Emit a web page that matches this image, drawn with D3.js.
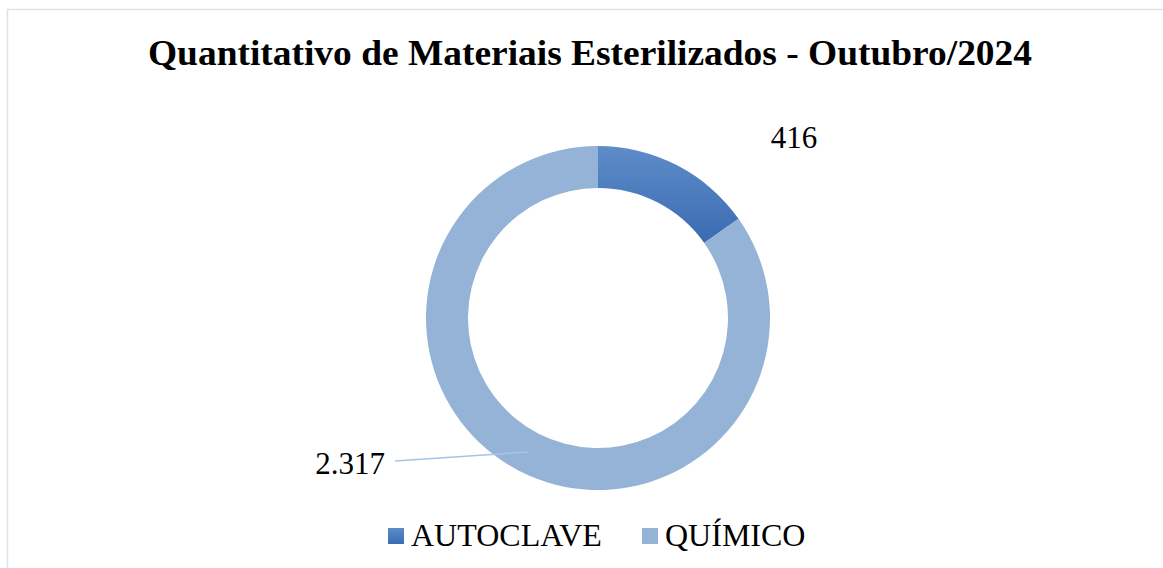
<!DOCTYPE html>
<html>
<head>
<meta charset="utf-8">
<script src="https://cdn.jsdelivr.net/npm/d3@7"></script>
<style>
  body { margin: 0; background: #fff; }
  text { font-family: "Liberation Serif", "Times New Roman", serif; fill: #000; }
</style>
</head>
<body>
<script>
// Chart data
var categories = ["AUTOCLAVE", "QUÍMICO"];
var values = [416, 2317];
var valueLabels = ["416", "2.317"];
var colors = ["#4a7cc0", "#95b3d7"];

var svgWidth = 1163;
var svgHeight = 568;

var svg = d3.select("body")
  .append("svg")
  .attr("width", svgWidth)
  .attr("height", svgHeight);

// gradient for autoclave slice
var defs = svg.append("defs");
var grad = defs.append("linearGradient")
  .attr("id", "autoGrad")
  .attr("x1", 0).attr("y1", 0).attr("x2", 0).attr("y2", 1);
grad.append("stop").attr("offset", "0%").attr("stop-color", "#5f8cc9");
grad.append("stop").attr("offset", "100%").attr("stop-color", "#3a6cb2");

var fills = ["url(#autoGrad)", colors[1]];

// chart border
svg.append("rect")
  .attr("x", 7.5)
  .attr("y", 9.5)
  .attr("width", svgWidth)
  .attr("height", svgHeight)
  .attr("fill", "none")
  .attr("stroke", "#d9e3f0")
  .attr("stroke-width", 1.5);

// title
svg.append("text")
  .attr("x", 590)
  .attr("y", 65)
  .attr("text-anchor", "middle")
  .attr("font-size", "36px")
  .attr("font-weight", "bold")
  .attr("textLength", 884)
  .attr("lengthAdjust", "spacingAndGlyphs")
  .text("Quantitativo de Materiais Esterilizados - Outubro/2024");

// donut
var cx = 598, cy = 318;
var outerR = 172, innerR = 130;

var pie = d3.pie().sort(null).value(d => d);
var arcs = pie(values);
var arc = d3.arc().innerRadius(innerR).outerRadius(outerR);

var donut = svg.append("g")
  .attr("transform", `translate(${cx}, ${cy})`);

donut.selectAll("path")
  .data(arcs)
  .enter()
  .append("path")
  .attr("d", arc)
  .attr("fill", (d, i) => fills[i]);

// leader line for the big slice
donut.append("line")
  .attr("x1", -70)
  .attr("y1", 134)
  .attr("x2", -203)
  .attr("y2", 143)
  .attr("stroke", "#a6c3e8")
  .attr("stroke-width", 1.5);

// value labels
svg.append("text")
  .attr("x", 794)
  .attr("y", 148)
  .attr("text-anchor", "middle")
  .attr("font-size", "31px")
  .text(valueLabels[0]);

svg.append("text")
  .attr("x", 385)
  .attr("y", 474)
  .attr("text-anchor", "end")
  .attr("font-size", "31px")
  .text(valueLabels[1]);

// legend
var legendX = [388, 642];
var legend = svg.append("g");
categories.forEach(function(c, i) {
  legend.append("rect")
    .attr("x", legendX[i])
    .attr("y", 528)
    .attr("width", 16)
    .attr("height", 16)
    .attr("fill", fills[i]);
  legend.append("text")
    .attr("x", legendX[i] + 23)
    .attr("y", 546)
    .attr("font-size", "32px")
    .text(c);
});
</script>
</body>
</html>
